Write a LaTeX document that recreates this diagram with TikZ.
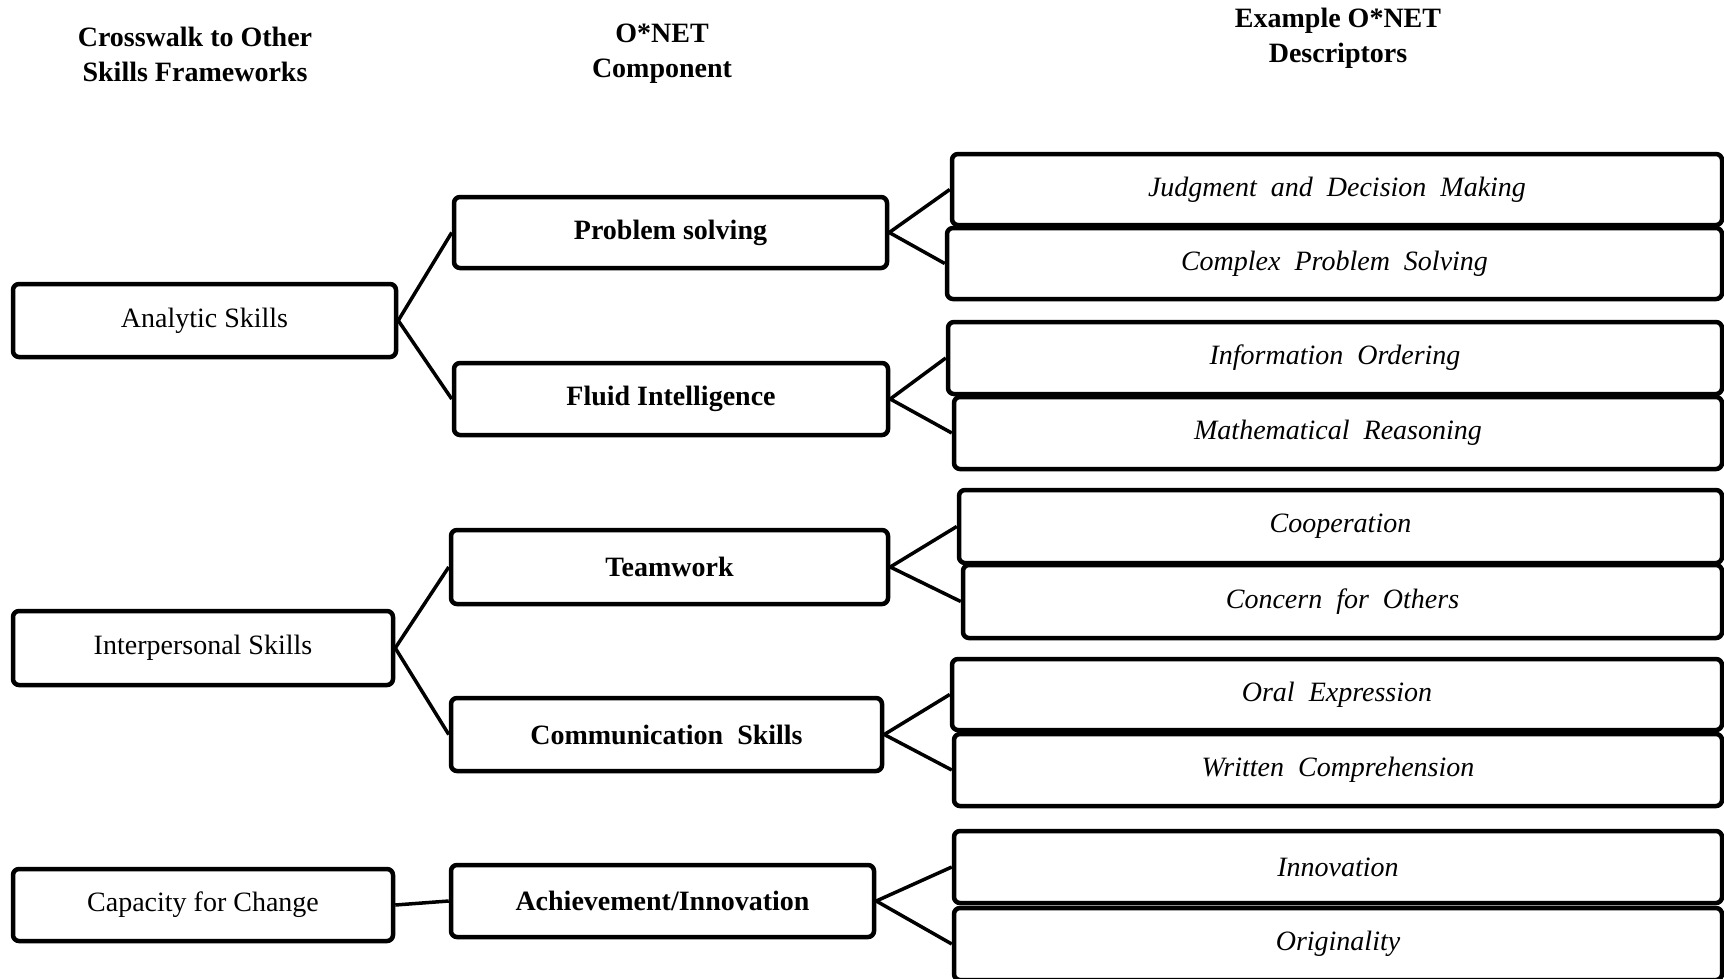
\documentclass[tikz,border=0pt]{standalone}
\usepackage{fontspec}
\setmainfont{Liberation Serif}
\begin{document}
\begin{tikzpicture}[x=1pt,y=-1pt,
  box/.style={draw=black, line width=4.5pt, rounded corners=6pt, fill=white, inner sep=0pt, font=\fontsize{28}{34}\selectfont},
  lbox/.style={box},
  mbox/.style={box, font=\fontsize{28}{34}\selectfont\bfseries},
  rbox/.style={box, font=\fontsize{28}{34}\selectfont\itshape},
  hdr/.style={align=center, inner sep=0pt, font=\fontsize{28}{35}\selectfont\bfseries},
  link/.style={line width=3.5pt}]
\useasboundingbox (0,0) rectangle (1724,978);
\fill[white] (0,0) rectangle (1724,978);

% headers
\node[hdr] (h1) at (195,54) {Crosswalk to Other\\Skills Frameworks};
\node[hdr] (h2) at (662,54) {O*NET\\Component};
\node[hdr] (h3) at (1338,38) {Example O*NET\\Descriptors};

% left column
\node[lbox, minimum width=383, minimum height=73] (A) at (204.5,320.5) {Analytic Skills};
\node[lbox, minimum width=380, minimum height=74] (I) at (203,648) {Interpersonal Skills};
\node[lbox, minimum width=380, minimum height=72] (C) at (203,905) {Capacity for Change};

% middle column
\node[mbox, minimum width=433, minimum height=71] (P) at (670.5,232.5) {Problem solving};
\node[mbox, minimum width=434, minimum height=72] (F) at (671,399) {Fluid Intelligence};
\node[mbox, minimum width=437, minimum height=74] (T) at (669.5,567) {Teamwork};
\node[mbox, minimum width=431, minimum height=73] (Cm) at (666.5,734.5) {Communication\ \ Skills};
\node[mbox, minimum width=423, minimum height=72] (Ach) at (662.5,901) {Achievement/Innovation};

% right column
\node[rbox, minimum width=770, minimum height=71] (J) at (1337,189.5) {Judgment\ \ and\ \ Decision\ \ Making};
\node[rbox, minimum width=775, minimum height=71] (Cx) at (1334.5,263.5) {Complex\ \ Problem\ \ Solving};
\node[rbox, minimum width=774, minimum height=72] (IO) at (1335,358) {Information\ \ Ordering};
\node[rbox, minimum width=768, minimum height=72] (MR) at (1338,433) {Mathematical\ \ Reasoning};
\node[rbox, minimum width=763, minimum height=73] (Co) at (1340.5,526.5) {Cooperation};
\node[rbox, minimum width=759, minimum height=73] (CO) at (1342.5,601.5) {Concern\ \ for\ \ Others};
\node[rbox, minimum width=770, minimum height=71] (OE) at (1337,694.5) {Oral\ \ Expression};
\node[rbox, minimum width=768, minimum height=72] (WC) at (1338,770) {Written\ \ Comprehension};
\node[rbox, minimum width=768, minimum height=72] (In) at (1338,867) {Innovation};
\node[rbox, minimum width=768, minimum height=72] (Or) at (1338,944) {Originality};

% connectors
\draw[link] (A.east) -- (P.west);
\draw[link] (A.east) -- (F.west);
\draw[link] (I.east) -- (T.west);
\draw[link] (I.east) -- (Cm.west);
\draw[link] (C.east) -- (Ach.west);

\draw[link] (P.east) -- (J.west);
\draw[link] (P.east) -- (Cx.west);
\draw[link] (F.east) -- (IO.west);
\draw[link] (F.east) -- (MR.west);
\draw[link] (T.east) -- (Co.west);
\draw[link] (T.east) -- (CO.west);
\draw[link] (Cm.east) -- (OE.west);
\draw[link] (Cm.east) -- (WC.west);
\draw[link] (Ach.east) -- (In.west);
\draw[link] (Ach.east) -- (Or.west);
\end{tikzpicture}
\end{document}
